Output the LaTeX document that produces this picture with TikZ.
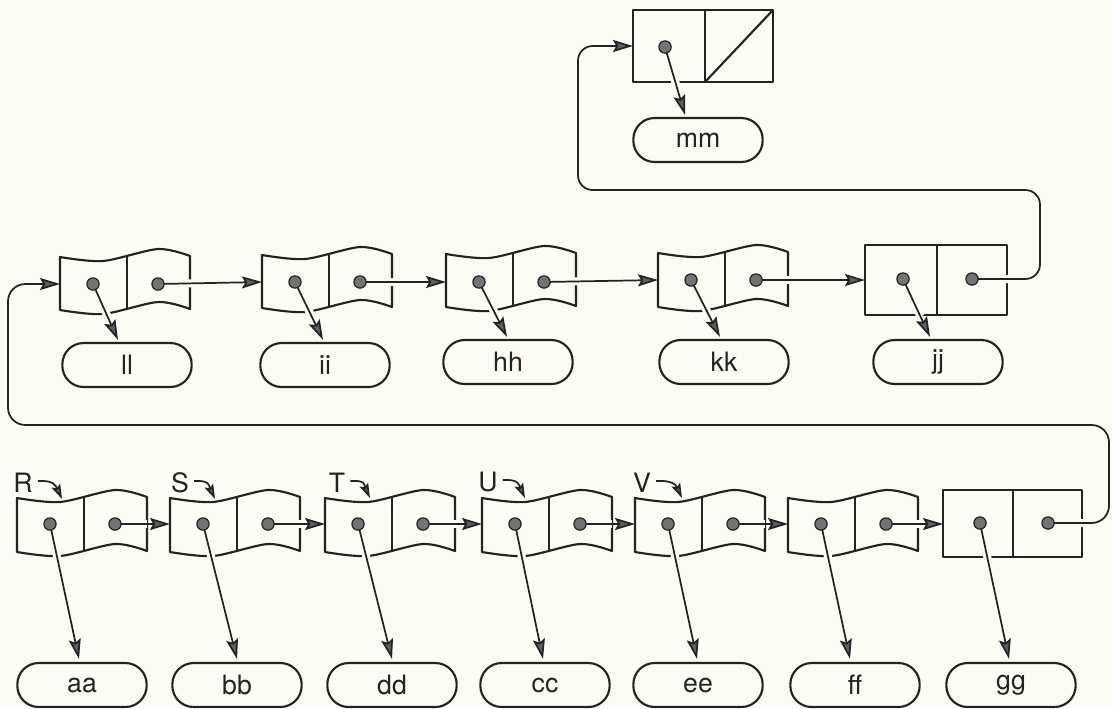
\documentclass[tikz,border=0pt]{standalone}
\usepackage{fontspec}
\setmainfont{TeX Gyre Heros}
\usetikzlibrary{arrows.meta,calc}
\definecolor{bgc}{RGB}{252,252,245}
\definecolor{ink}{RGB}{35,35,35}
\definecolor{tipc}{RGB}{95,95,95}
\definecolor{dotc}{RGB}{115,115,115}
\tikzset{
  cell/.style={draw=ink, line width=1.6pt, line join=round},
  lab/.style={draw=ink, line width=1.6pt, rounded corners=16pt, minimum width=97pt,
    minimum height=33pt, inner sep=0pt, font=\fontsize{20}{22}\selectfont, text=ink},
  vlab/.style={font=\fontsize{20}{22}\selectfont, text=ink, inner sep=0pt},
  conn/.style={draw=ink, line width=1.3pt,
    -{Stealth[length=15pt,width=9pt,inset=2.5pt,fill=tipc]},
    preaction={draw=bgc, line width=6pt, -, shorten >=17pt}},
  link/.style={draw=ink, line width=1.3pt,
    -{Stealth[length=11pt,width=7pt,inset=2pt,fill=tipc]}},
  dotm/.style={draw=ink, fill=dotc, line width=0.9pt},
}
% wavy two-part cell: x0, ytop, ybottom, dot y, name
\newcommand\wcell[5]{%
  \draw[cell] (#1,#2) -- plot[smooth] coordinates {(#1,#2) ({#1+43},{#2+4}) ({#1+98},{#2-8}) ({#1+130},{#2-1})}
     -- ({#1+130},{#3-1}) -- plot[smooth] coordinates {({#1+130},{#3-1}) ({#1+98},{#3-8}) ({#1+43},{#3+4}) (#1,#3)} -- cycle;
  \draw[cell] ({#1+67},{#2-1}) -- ({#1+67},{#3-1});
  \coordinate (#5l) at ({#1+33},#4);
  \coordinate (#5r) at ({#1+98},#4);
  \coordinate (#5in) at (#1,#4);
}
\begin{document}
\begin{tikzpicture}[x=0.75pt,y=-0.75pt]
\fill[bgc] (0,0) rectangle (1113,708);
\useasboundingbox (0,0) rectangle (1113,708);

% top cell (mm)
\draw[cell] (633,10) rectangle (773,82);
\draw[cell] (705,10) -- (705,82);
\draw[cell] (705,82) -- (773,10);
\coordinate (cml) at (665,47);
\coordinate (cmin) at (633,46);

% top row
\wcell{60}{257}{310}{284}{c1}
\wcell{262}{255}{308}{282}{c2}
\wcell{446}{254}{307}{282}{c3}
\wcell{658}{253}{307}{280}{c4}
\draw[cell] (865,245) rectangle (1007,315);
\draw[cell] (937,245) -- (937,315);
\coordinate (cjl) at (903,279);
\coordinate (cjr) at (972,279);
\coordinate (cjin) at (865,280);

% bottom row
\wcell{17}{498}{552}{524}{b1}
\wcell{170}{498}{552}{524}{b2}
\wcell{325}{498}{552}{524}{b3}
\wcell{482}{498}{552}{524}{b4}
\wcell{635}{498}{552}{524}{b5}
\wcell{788}{498}{552}{524}{b6}
\draw[cell] (943,490) rectangle (1082,557);
\draw[cell] (1013,490) -- (1013,557);
\coordinate (cxl) at (980,523);
\coordinate (cxr) at (1048,523);
\coordinate (cxin) at (943,524);

% value labels
\node[lab] (mm) at (698,140) {mm};
\node[lab] (ll) at (127,365) {ll};
\node[lab] (ii) at (325,365) {ii};
\node[lab] (hh) at (508,362) {hh};
\node[lab] (kk) at (724,362) {kk};
\node[lab] (jj) at (938,362) {jj};
\node[lab] (aa) at (82,685) {aa};
\node[lab] (bb) at (237,685) {bb};
\node[lab] (dd) at (392,685) {dd};
\node[lab] (cc) at (545,685) {cc};
\node[lab] (ee) at (698,685) {ee};
\node[lab] (ff) at (855,685) {ff};
\node[lab] (gg) at (1011,685) {gg};

% variable names
\node[vlab] (Rlab) at (23,483) {R};
\node[vlab] (Slab) at (180,483) {S};
\node[vlab] (Tlab) at (337,483) {T};
\node[vlab] (Ulab) at (488,482) {U};
\node[vlab] (Vlab) at (642,483) {V};

% links between cells
\draw[conn] (c1r) -- (c2in);
\draw[conn] (c2r) -- (c3in);
\draw[conn] (c3r) -- (c4in);
\draw[conn] (c4r) -- (cjin);
\draw[conn, rounded corners=11pt] (cjr) -| (1040,190) -| (578,46) -- (cmin);
\draw[conn] (b1r) -- (b2in);
\draw[conn] (b2r) -- (b3in);
\draw[conn] (b3r) -- (b4in);
\draw[conn] (b4r) -- (b5in);
\draw[conn] (b5r) -- (b6in);
\draw[conn] (b6r) -- (cxin);
\draw[conn, rounded corners=13pt] (cxr) -| (1109,425) -| (8,284) -- (c1in);

% pointers to values
\draw[conn] (cml) -- ($(mm.north)+(-13,-2)$);
\draw[conn] (c1l) -- ($(ll.north)+(-9,-2)$);
\draw[conn] (c2l) -- ($(ii.north)+(-2,-2)$);
\draw[conn] (c3l) -- ($(hh.north)+(-1,-2)$);
\draw[conn] (c4l) -- ($(kk.north)+(-4,-2)$);
\draw[conn] (cjl) -- ($(jj.north)+(-8,-2)$);
\draw[conn] (b1l) -- ($(aa.north)+(-3,-3)$);
\draw[conn] (b2l) -- ($(bb.north)+(0,-3)$);
\draw[conn] (b3l) -- ($(dd.north)+(0,-3)$);
\draw[conn] (b4l) -- ($(cc.north)+(-2,-3)$);
\draw[conn] (b5l) -- ($(ee.north)+(-1,-3)$);
\draw[conn] (b6l) -- ($(ff.north)+(-5,-3)$);
\draw[conn] (cxl) -- ($(gg.north)+(-2,-3)$);

% variable arrows
\draw[link] ($(Rlab.east)+(5,-2)$) .. controls +(16,-1) and +(-6,-13) .. ($(b1in)+(45,-25)$);
\draw[link] ($(Slab.east)+(5,-2)$) .. controls +(16,-1) and +(-6,-13) .. ($(b2in)+(45,-25)$);
\draw[link] ($(Tlab.east)+(5,-2)$) .. controls +(16,-1) and +(-6,-13) .. ($(b3in)+(45,-26)$);
\draw[link] ($(Ulab.east)+(5,-2)$) .. controls +(16,-1) and +(-6,-13) .. ($(b4in)+(43,-26)$);
\draw[link] ($(Vlab.east)+(5,-2)$) .. controls +(16,-1) and +(-6,-13) .. ($(b5in)+(47,-26)$);

% dots
\foreach \p in {cml,c1l,c1r,c2l,c2r,c3l,c3r,c4l,c4r,cjl,cjr,b1l,b1r,b2l,b2r,b3l,b3r,b4l,b4r,b5l,b5r,b6l,b6r,cxl,cxr}
  \filldraw[dotm] (\p) circle[radius=4.6pt];
\end{tikzpicture}
\end{document}
